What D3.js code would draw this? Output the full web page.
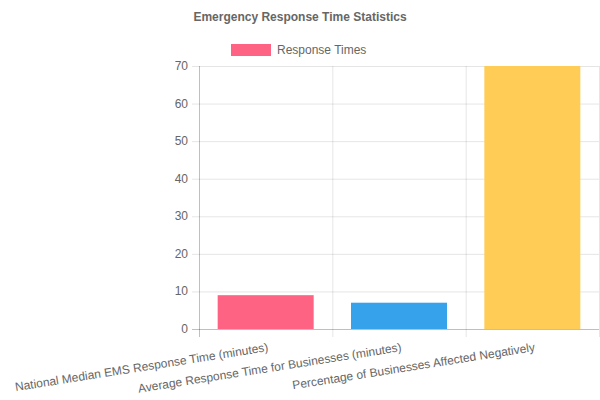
<!DOCTYPE html>
<html>
<head>
<meta charset="utf-8">
<script src="https://cdn.jsdelivr.net/npm/d3@7"></script>
<style>
  body { margin: 0; background: #fff; }
  svg { font-family: "Liberation Sans", Arial, Helvetica, sans-serif; }
</style>
</head>
<body>
<svg id="chart" width="600" height="400"></svg>
<script>
const title = "Emergency Response Time Statistics";
const seriesName = "Response Times";
const categories = [
  "National Median EMS Response Time (minutes)",
  "Average Response Time for Businesses (minutes)",
  "Percentage of Businesses Affected Negatively"
];
const values = [9, 7, 70];
const barColors = ["#ff6384", "#36a2eb", "#ffcd56"];
const yTicks = [0, 10, 20, 30, 40, 50, 60, 70];

const svg = d3.select("#chart");
const margin = { left: 199, right: 1, top: 66, bottom: 71 };
const width = 600, height = 400;
const gridColor = "rgba(0,0,0,0.1)";
const textColor = "#666";

const x = d3.scaleBand()
  .domain(categories)
  .range([margin.left, width - margin.right])
  .paddingInner(0.28)
  .paddingOuter(0.14);

const xBand = d3.scaleBand()
  .domain(categories)
  .range([margin.left, width - margin.right]);

const y = d3.scaleLinear()
  .domain([0, 70])
  .range([height - margin.bottom, margin.top]);

// title
svg.append("text")
  .attr("x", 300)
  .attr("y", 21)
  .attr("text-anchor", "middle")
  .attr("font-size", 12)
  .attr("font-weight", "bold")
  .attr("fill", textColor)
  .text(title);

// legend
svg.append("rect")
  .attr("x", 231).attr("y", 44)
  .attr("width", 40).attr("height", 12)
  .attr("fill", barColors[0]);
svg.append("text")
  .attr("x", 277).attr("y", 54)
  .attr("font-size", 12)
  .attr("fill", textColor)
  .text(seriesName);

// horizontal grid + y ticks
const yg = svg.append("g");
yTicks.forEach(t => {
  yg.append("line")
    .attr("x1", margin.left - 7).attr("x2", width - margin.right)
    .attr("y1", y(t) + 0.5).attr("y2", y(t) + 0.5)
    .attr("stroke", t === 0 ? "rgba(0,0,0,0.25)" : gridColor);
  yg.append("text")
    .attr("x", margin.left - 11)
    .attr("y", y(t) + 4)
    .attr("text-anchor", "end")
    .attr("font-size", 12)
    .attr("fill", textColor)
    .text(t);
});

// vertical grid lines
const edges = categories.map(c => xBand(c)).concat([width - margin.right]);
edges.forEach((e, i) => {
  svg.append("line")
    .attr("x1", e + 0.5).attr("x2", e + 0.5)
    .attr("y1", margin.top).attr("y2", height - margin.bottom + 8)
    .attr("stroke", i === 0 ? "rgba(0,0,0,0.25)" : gridColor);
});

// bars
svg.selectAll("rect.bar")
  .data(values)
  .enter().append("rect")
  .attr("class", "bar")
  .attr("x", (d, i) => x(categories[i]))
  .attr("y", d => y(d))
  .attr("width", x.bandwidth())
  .attr("height", d => y(0) - y(d))
  .attr("fill", (d, i) => barColors[i]);

// x labels, rotated
categories.forEach(c => {
  const cx = xBand(c) + xBand.bandwidth() / 2;
  svg.append("text")
    .attr("transform", "translate(" + (cx + 3) + "," + (height - margin.bottom + 22) + ") rotate(-9)")
    .attr("text-anchor", "end")
    .attr("font-size", 12)
    .attr("fill", textColor)
    .text(c);
});
</script>
</body>
</html>
